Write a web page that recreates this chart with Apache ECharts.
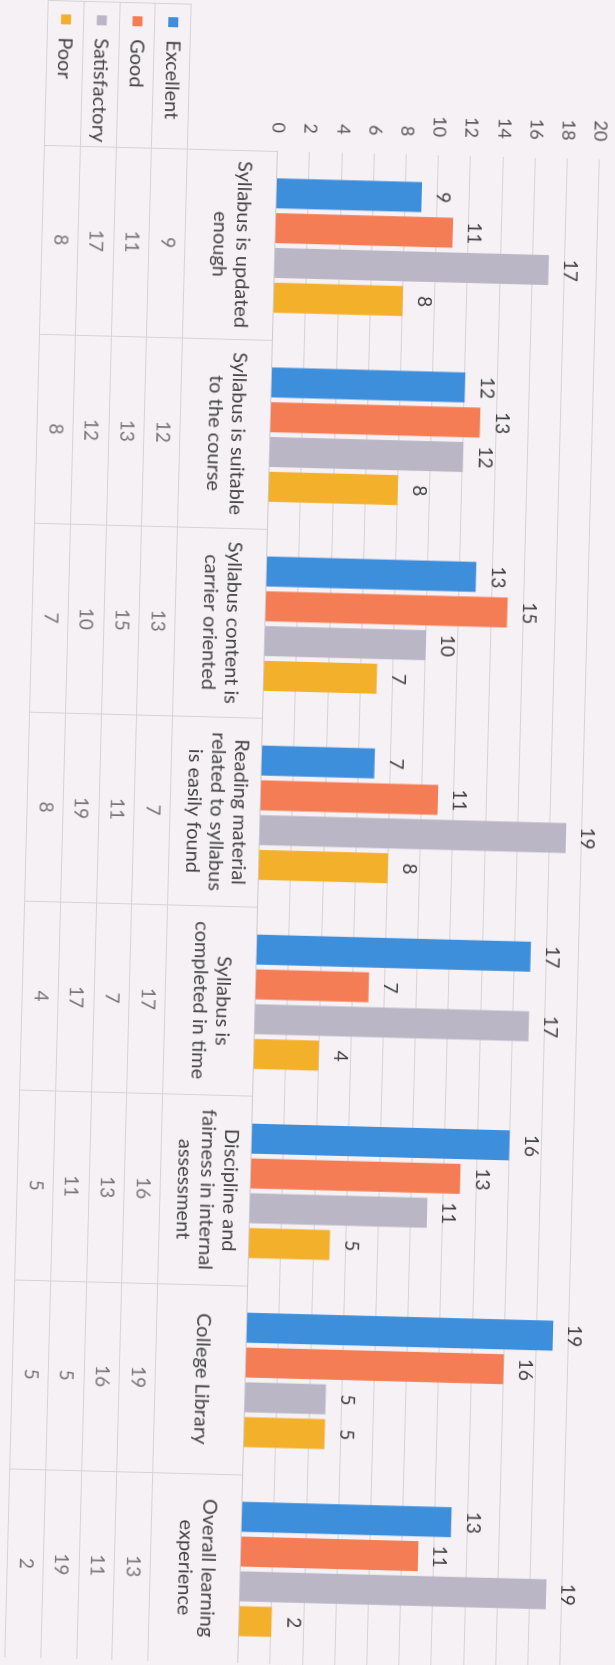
<!DOCTYPE html>
<html>
<head>
<meta charset="utf-8">
<script src="https://cdn.jsdelivr.net/npm/echarts@6/dist/echarts.min.js"></script>
<style>
  html, body { margin: 0; padding: 0; width: 615px; height: 1665px; overflow: hidden; background: #f6f1f5; }
  #chart {
    position: absolute; width: 1665px; height: 615px;
    left: -525px; top: 525px;
    transform-origin: 50% 50%;
    transform: rotate(91.5deg);
    background: #f6f1f5;
  }
</style>
</head>
<body>
<div id="chart"></div>
<script>
// ---- data ----
const categories = [
  "Syllabus is updated\nenough",
  "Syllabus is suitable\nto the course",
  "Syllabus content is\ncarrier oriented",
  "Reading material\nrelated to syllabus\nis easily found",
  "Syllabus is\ncompleted in time",
  "Discipline and\nfairness in internal\nassessment",
  "College Library",
  "Overall learning\nexperience"
];
const seriesNames = ["Excellent", "Good", "Satisfactory", "Poor"];
const excellent    = [9, 12, 13, 7, 17, 16, 19, 13];
const good         = [11, 13, 15, 11, 7, 13, 16, 11];
const satisfactory = [17, 12, 10, 19, 17, 11, 5, 19];
const poor         = [8, 8, 7, 8, 4, 5, 5, 2];
const valueMin = 0, valueMax = 20, valueStep = 2;

// ---- style ----
const colors = ["#3d8edb", "#f47d55", "#bab6c5", "#f3b02b"];
const FONT = "Lato";
const lineColor = "#d6d2da";
const textColor = "#454545";

const allValues = [excellent, good, satisfactory, poor];

const GL = 152, GW = 1521;

const barSeries = allValues.map((vals, i) => ({
  name: seriesNames[i],
  type: "bar",
  xAxisIndex: 0, yAxisIndex: 0,
  data: vals,
  barWidth: 30,
  barGap: "16%",
  itemStyle: { color: colors[i] },
  label: {
    show: true, position: "top", distance: 12,
    fontFamily: FONT, fontSize: 19, color: "#404040"
  }
}));

const tableSeries = allValues.map((vals, i) => ({
  name: seriesNames[i] + " table",
  type: "scatter",
  xAxisIndex: 2, yAxisIndex: 2,
  symbolSize: 1,
  itemStyle: { color: "rgba(0,0,0,0)" },
  data: vals.map((v, c) => [c, i, v]),
  label: {
    show: true, position: "inside",
    formatter: p => String(p.value[2]),
    fontFamily: FONT, fontSize: 19, color: "#555"
  }
}));

const rich = { t: { fontFamily: FONT, fontSize: 20, color: textColor, padding: [0, 0, 0, 13] } };
colors.forEach((c, i) => { rich["s" + i] = { width: 10, height: 10, backgroundColor: c }; });

const option = {
  animation: false,
  backgroundColor: "#f6f1f5",
  grid: [
    { left: GL, width: GW, top: 33, height: 322 },      // plot
    { left: GL, width: GW, top: 355, height: 233 },     // table column lines
    { left: GL, width: GW, top: 445, height: 143 }      // table rows
  ],
  xAxis: [
    {
      type: "category", gridIndex: 0, data: categories,
      axisLine: { show: true, lineStyle: { color: "#cdc9d1", width: 1 } },
      axisTick: { show: false },
      splitLine: { show: false },
      axisLabel: {
        interval: 0, margin: 44, verticalAlign: "middle",
        fontFamily: FONT, fontSize: 20, lineHeight: 23, color: textColor
      }
    },
    {
      type: "category", gridIndex: 1, data: categories,
      axisLine: { show: false }, axisTick: { show: false }, axisLabel: { show: false },
      splitLine: { show: true, lineStyle: { color: lineColor, width: 1 } }
    },
    {
      type: "category", gridIndex: 2, data: categories,
      axisLine: { show: false }, axisTick: { show: false }, axisLabel: { show: false },
      splitLine: { show: false }
    }
  ],
  yAxis: [
    {
      type: "value", gridIndex: 0, min: valueMin, max: valueMax, interval: valueStep,
      axisLine: { show: false }, axisTick: { show: false },
      splitLine: { show: true, lineStyle: { color: lineColor, width: 1 } },
      axisLabel: { margin: 18, fontFamily: FONT, fontSize: 18, color: "#555" }
    },
    {
      type: "value", gridIndex: 1, min: 0, max: 1, show: false
    },
    {
      type: "category", gridIndex: 2, data: seriesNames, inverse: true,
      axisLine: { show: true, lineStyle: { color: lineColor } },
      axisTick: { show: true, length: 145, lineStyle: { color: lineColor } },
      splitLine: { show: true, lineStyle: { color: lineColor, width: 1 } },
      axisLabel: {
        align: "left", margin: 131,
        formatter: (v, i) => "{s" + i + "|}{t|" + v + "}",
        rich: rich
      }
    },
    {
      type: "category", gridIndex: 2, data: seriesNames, inverse: true,
      position: "left", offset: 145,
      axisLine: { show: true, lineStyle: { color: lineColor } },
      axisTick: { show: false }, axisLabel: { show: false }, splitLine: { show: false }
    }
  ],
  series: barSeries.concat(tableSeries)
};

const chart = echarts.init(document.getElementById("chart"), null, { renderer: "canvas" });
chart.setOption(option);
</script>
</body>
</html>
